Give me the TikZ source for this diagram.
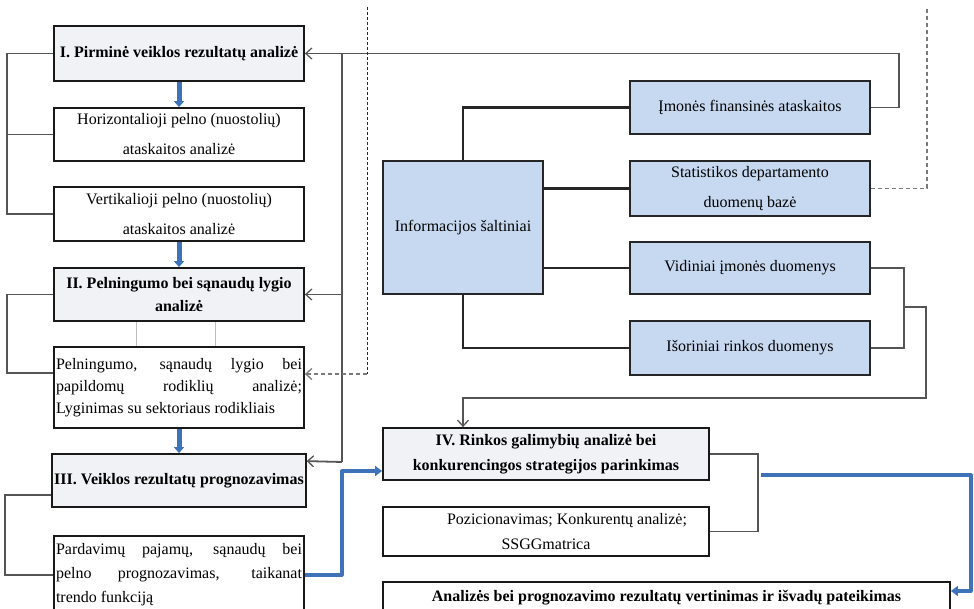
\documentclass[tikz,border=0pt]{standalone}
\usepackage{fontspec}
\setmainfont{Liberation Serif}
\usetikzlibrary{arrows.meta}
\definecolor{tfill}{HTML}{F0F2F6}
\definecolor{ifill}{HTML}{C6D9F1}
\definecolor{barrow}{HTML}{3E73B9}
\definecolor{gline}{HTML}{555555}
\definecolor{dgray}{HTML}{7A7A7A}
\begin{document}
\begin{tikzpicture}[x=1pt,y=-1pt,
  basebox/.style={draw=black!90, line width=1.8pt, inner sep=2pt, align=center},
  wbox/.style={basebox, fill=white, minimum width=250pt, font=\fontsize{16}{30}\selectfont},
  tbox/.style={basebox, fill=tfill, minimum width=250pt, font=\bfseries\fontsize{16}{23}\selectfont},
  jbox/.style={basebox, fill=white, minimum width=250pt, text width=246pt, align=justify, font=\fontsize{16}{22}\selectfont},
  ibox/.style={draw=black!85, line width=2pt, fill=ifill, inner sep=2pt, align=center, font=\fontsize{16}{30}\selectfont},
  gconn/.style={draw=gline, line width=1.8pt},
  kconn/.style={draw=black!85, line width=2.4pt},
  open/.style={-{Straight Barb[length=6pt,width=11pt,line width=1.3pt]}},
  bconn/.style={draw=barrow, line width=3.2pt, line join=round, -{Triangle[length=7pt,width=10pt]}},
  bstep/.style={draw=barrow, line width=5pt, -{Triangle[length=6pt,width=10pt]}},
  kdash/.style={draw=black!85, line width=1pt, dash pattern=on 3pt off 2pt},
  gdash/.style={draw=dgray, line width=1.5pt, dash pattern=on 4pt off 3pt},
  faint/.style={draw=black!25, line width=0.9pt}
]
\useasboundingbox (0,0) rectangle (974,609);

% left column
\node[tbox, minimum height=55pt] (bI) at (179,53.5) {I. Pirminė veiklos rezultatų analizė};
\node[wbox, minimum height=53pt] (bH) at (179,134.5) {Horizontalioji pelno (nuostolių)\\ataskaitos analizė};
\node[wbox, minimum height=54pt] (bV) at (179,214) {Vertikalioji pelno (nuostolių)\\ataskaitos analizė};
\node[tbox, minimum height=53pt] (bII) at (179,294.5) {II. Pelningumo bei sąnaudų lygio\\analizė};
\node[jbox, minimum height=81pt] (bP) at (179,387.5) {Pelningumo, sąnaudų lygio bei\linebreak papildomų rodiklių analizė;\linebreak Lyginimas su sektoriaus rodikliais};
\node[tbox, minimum height=53pt] (bIII) at (179,480.5) {III. Veiklos rezultatų prognozavimas};
\node[jbox, minimum height=78pt, font=\fontsize{16}{24}\selectfont] (bPa) at (179,575) {Pardavimų pajamų, sąnaudų bei\linebreak pelno prognozavimas, taikanat\linebreak trendo funkciją};

% right part
\node[ibox, minimum width=160pt, minimum height=133pt] (Inf) at (463,227.5) {Informacijos šaltiniai};
\node[ibox, minimum width=240pt, minimum height=53pt] (Im) at (750,107.5) {Įmonės finansinės ataskaitos};
\node[ibox, minimum width=240pt, minimum height=55pt] (St) at (750,188.5) {Statistikos departamento\\duomenų bazė};
\node[ibox, minimum width=240pt, minimum height=52pt] (Vi) at (750,268) {Vidiniai įmonės duomenys};
\node[ibox, minimum width=240pt, minimum height=54pt] (Is) at (750,348) {Išoriniai rinkos duomenys};

\node[basebox, fill=tfill, minimum width=326pt, minimum height=52pt, font=\bfseries\fontsize{16}{25}\selectfont] (IV) at (546,454) {IV. Rinkos galimybių analizė bei\\konkurencingos strategijos parinkimas};
\node[basebox, fill=white, minimum width=326pt, minimum height=49pt, font=\fontsize{16}{25}\selectfont] (Poz) at (546,531.5) {\hspace*{42pt}Pozicionavimas; Konkurentų analizė;\\SSGGmatrica};
\node[basebox, fill=white, minimum width=567pt, minimum height=32pt, font=\bfseries\fontsize{16}{20}\selectfont] (An) at (666.5,598) {Analizės bei prognozavimo rezultatų vertinimas ir išvadų pateikimas};

% blue step arrows
\draw[bstep] (bI.south) -- (bH.north);
\draw[bstep] (bV.south) -- (bII.north);
\draw[bstep] (bP.south) -- (bIII.north);

% faint lines
\draw[faint] ([xshift=-43pt]bII.south) -- ([xshift=-43pt]bP.north);
\draw[faint] ([xshift=36pt]bII.south) -- ([xshift=36pt]bP.north);

% left brackets
\draw[gconn] (bI.west) -- ++(-46,0) |- (bV.west);
\draw[gconn] (bH.west) -- ++(-46,0);
\draw[gconn] (bII.west) -- ++(-46,0) |- ([yshift=14.5pt]bP.west);
\draw[gconn] ([yshift=-14.5pt]bIII.west) -- ++(-46,0) |- (bPa.west);

% feedback from Imonės
\coordinate (vx) at (342,53.5);
\draw[gconn, open] (Im.east) -- ++(28,0) |- (bI.east);
\draw[gconn] (vx) -- (vx |- 0,462);
\draw[gconn, open] (vx |- bII.east) -- (bII.east);
\draw[gconn, open] (vx |- 0,462) -- ([yshift=-8pt]bIII.north east);

% dashed lines
\coordinate (dtop) at (367,7);
\coordinate (dcor) at (367,374);
\draw[kdash] (dtop) -- (dcor);
\draw[gdash, open] (dcor) -- (bP.east |- dcor);
\coordinate (stop) at (927,7);
\draw[gdash] (St.east) -| (stop);

% Informacijos connectors
\draw[kconn] (Inf.north) |- (Im.west);
\draw[kconn] (Inf.east |- St.west) -- (St.west);
\draw[kconn] (Inf.east |- Vi.west) -- (Vi.west);
\draw[kconn] (Inf.south) |- (Is.west);

% Vidiniai / Isoriniai bracket to IV
\draw[gconn] (Vi.east) -- ++(33,0) |- (Is.east);
\coordinate (jn) at (903,307);
\coordinate (jr) at (926,398);
\draw[gconn, open] (jn) -| (jr) -| (IV.north -| Inf.south);

% IV bracket
\draw[gconn] (IV.east) -- ++(48,0) |- (Poz.east);

% blue connectors
\coordinate (IVin) at ([yshift=-17pt]IV.west);
\draw[bconn] (bPa.east) -- (bPa.east -| vx) |- (IVin);
\coordinate (bs) at (761,475);
\coordinate (br) at (971,591);
\draw[bconn] (bs) -| (br) -- (br -| An.east);
\end{tikzpicture}
\end{document}
